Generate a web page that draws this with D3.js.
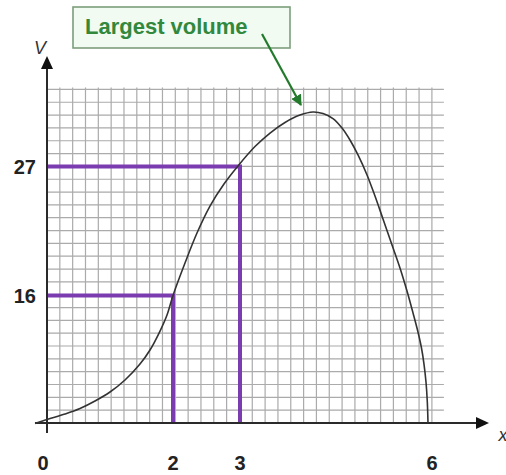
<!DOCTYPE html>
<html>
<head>
<meta charset="utf-8">
<script src="https://cdn.jsdelivr.net/npm/d3@7"></script>
<style>
  html, body { margin: 0; padding: 0; background: #fff; }
  svg { display: block; }
</style>
</head>
<body>
<script>
// Volume V against side length x
const xTicks = [0, 2, 3, 6];
const vTicks = [16, 27];
const curveX = [-0.19, 0, 0.286, 0.524, 0.762, 1.0, 1.238, 1.476, 1.635, 1.794, 1.905, 2.0, 2.179, 2.358, 2.552, 2.761, 2.97, 3.239, 3.479, 3.718, 3.957, 4.165, 4.324, 4.484, 4.628, 4.755, 4.883, 5.027, 5.154, 5.282, 5.426, 5.553, 5.665, 5.761, 5.84, 5.896, 5.936, 5.968, 5.989, 6.0];
const curveV = [-0.06, 0.44, 1.13, 1.82, 2.76, 3.89, 5.4, 7.4, 9.16, 11.54, 13.55, 16.0, 18.77, 21.33, 23.63, 25.51, 27.05, 28.83, 30.07, 31.04, 31.72, 32.0, 31.86, 31.4, 30.53, 29.43, 28.06, 26.28, 24.48, 22.52, 20.31, 18.35, 16.38, 13.8, 11.42, 9.41, 7.4, 5.14, 2.64, 0];
const guideX = [2, 3];
const guideV = [16, 27];
const noteText = "Largest volume";

const W = 506, H = 475;
const svg = d3.select("body").append("svg").attr("width", W).attr("height", H);

// hand-sketched axes: piecewise scales keep the marked values on their lines
const x = d3.scaleLinear().domain([0, 2, 3, 6]).range([47, 173, 240, 428]);
const y = d3.scaleLinear().domain([0, 16, 27, 32]).range([423, 295.5, 166.5, 112]);

const x0 = x(0), y0 = y(0);
const cell = 12.83;

// graph paper
const grid = svg.append("g").attr("stroke", "#a2a2a2").attr("stroke-width", 1.2).attr("opacity", 0.9);
const nCols = 30, nRows = 26;
grid.selectAll("line.v").data(d3.range(1, nCols + 1)).join("line")
  .attr("x1", i => x0 + i * cell).attr("x2", i => x0 + i * cell)
  .attr("y1", y0).attr("y2", y0 - nRows * cell - 2);
grid.selectAll("line.h").data(d3.range(1, nRows + 1)).join("line")
  .attr("x1", x0).attr("x2", x0 + nCols * cell + 12)
  .attr("y1", j => y0 - j * cell).attr("y2", j => y0 - j * cell);

// purple guide lines
const purple = "#7b3cb0";
const guides = svg.append("g").attr("fill", "none").attr("stroke", purple)
  .attr("stroke-width", 4).attr("stroke-linejoin", "miter");
guideX.forEach((gx, i) => {
  guides.append("path")
    .attr("d", `M${x0},${y(guideV[i])}H${x(gx)}V${y0}`);
});

// axes with arrowheads
const axisColor = "#2a2a2a";
svg.append("line").attr("x1", 35).attr("x2", 478).attr("y1", y0).attr("y2", y0)
  .attr("stroke", axisColor).attr("stroke-width", 2);
svg.append("line").attr("x1", x0).attr("x2", x0).attr("y1", 433).attr("y2", 66)
  .attr("stroke", axisColor).attr("stroke-width", 2);
svg.append("path").attr("d", `M489,${y0}L476,${y0 - 6}L476,${y0 + 6}Z`).attr("fill", "#111");
svg.append("path").attr("d", `M${x0},56L${x0 - 6},69L${x0 + 6},69Z`).attr("fill", "#111");

// the curve
const pts = curveX.map((d, i) => [d, curveV[i]]);
svg.append("path").datum(pts)
  .attr("fill", "none").attr("stroke", "#333").attr("stroke-width", 1.6)
  .attr("d", d3.line().x(d => x(d[0])).y(d => y(d[1])).curve(d3.curveCatmullRom.alpha(0.5)));

// tick labels
const labelFont = "'Liberation Sans', Arial, sans-serif";
svg.selectAll("text.xt").data(xTicks).join("text")
  .attr("x", d => d === 0 ? x(d) - 4 : (d === 6 ? x(d) + 4 : x(d)))
  .attr("y", 470).attr("text-anchor", "middle")
  .attr("font-family", labelFont).attr("font-weight", "bold").attr("font-size", 20)
  .attr("fill", "#222").text(d => d);
svg.selectAll("text.vt").data(vTicks).join("text")
  .attr("x", 36).attr("y", d => y(d) + 7).attr("text-anchor", "end")
  .attr("font-family", labelFont).attr("font-weight", "bold").attr("font-size", 20)
  .attr("fill", "#222").text(d => d);

// axis names
svg.append("text").attr("x", 40).attr("y", 54).attr("text-anchor", "middle")
  .attr("font-family", labelFont).attr("font-style", "italic").attr("font-size", 18)
  .attr("fill", "#333").text("V");
svg.append("text").attr("x", 503).attr("y", 441).attr("text-anchor", "middle")
  .attr("font-family", labelFont).attr("font-style", "italic").attr("font-size", 18)
  .attr("fill", "#333").text("x");

// annotation
svg.append("defs").append("marker")
  .attr("id", "head").attr("viewBox", "0 0 10 10").attr("refX", 9).attr("refY", 5)
  .attr("markerWidth", 5).attr("markerHeight", 5).attr("orient", "auto")
  .append("path").attr("d", "M0,0L10,5L0,10Z").attr("fill", "#237a2c");
svg.append("rect").attr("x", 73).attr("y", 7).attr("width", 217).attr("height", 41)
  .attr("fill", "#f1fbf1").attr("stroke", "#7c9e7c").attr("stroke-width", 1.6);
svg.append("text").attr("x", 85).attr("y", 34)
  .attr("font-family", labelFont).attr("font-weight", "bold").attr("font-size", 22)
  .attr("fill", "#32883c").text(noteText);
svg.append("line").attr("x1", 262).attr("y1", 34).attr("x2", x(4.1) - 8).attr("y2", y(32) - 7)
  .attr("stroke", "#237a2c").attr("stroke-width", 2.2).attr("marker-end", "url(#head)");
</script>
</body>
</html>
